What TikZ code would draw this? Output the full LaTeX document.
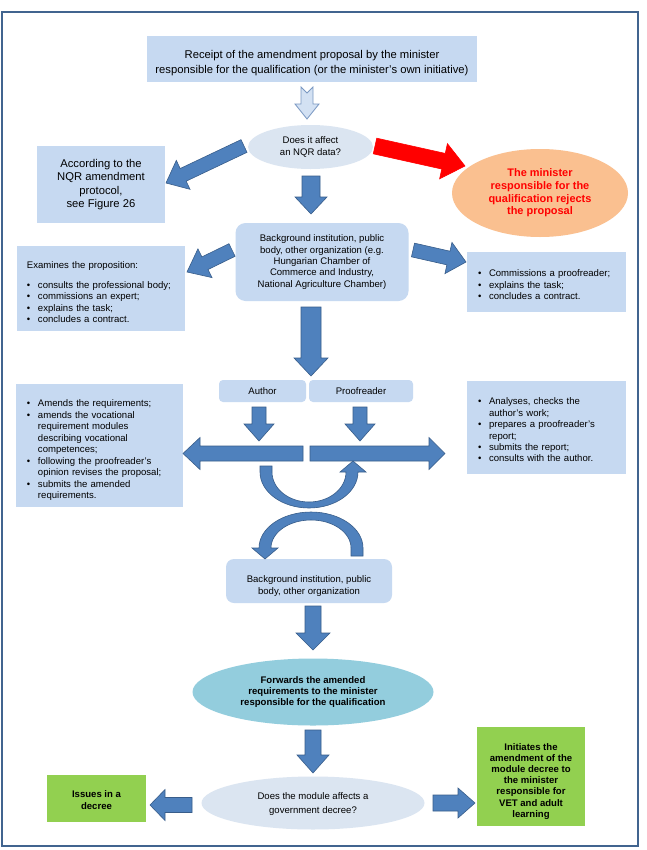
\documentclass[tikz,border=0pt]{standalone}
\usepackage{fontspec}
\setmainfont{Liberation Sans}
\usetikzlibrary{calc,shapes.geometric}
\definecolor{boxblue}{HTML}{C6D9F1}
\definecolor{ellblue}{HTML}{DBE5F1}
\definecolor{arrfill}{HTML}{4F81BD}
\definecolor{arrline}{HTML}{385D8A}
\definecolor{framec}{HTML}{41648F}
\definecolor{orangef}{HTML}{FAC090}
\definecolor{cyanf}{HTML}{93CDDD}
\definecolor{greenf}{HTML}{92D050}
\definecolor{hollowline}{HTML}{7A98C2}
\definecolor{hollowfill}{HTML}{D3E1F3}
\newcommand\fsmain{\fontsize{9.6}{11.5}\selectfont}
\newcommand\fsbig{\fontsize{11.3}{13.5}\selectfont}
\newcommand\bul{\makebox[11bp][l]{\textbullet}}
\newcommand\lowr[2]{\raisebox{-#1}[\height][\depth]{#2}}
\newcommand\blockarr[6][]{%
  \coordinate (ba-c) at ($(#3)!#6!(#2)$);
  \filldraw[blockarrow,#1] ($(#2)!#4!90:(#3)$) -- ($(ba-c)!#4!90:(#3)$) -- ($(ba-c)!#5!90:(#3)$) -- (#3) -- ($(ba-c)!#5!-90:(#3)$) -- ($(ba-c)!#4!-90:(#3)$) -- ($(#2)!#4!-90:(#3)$) -- cycle;}
\begin{document}
\begin{tikzpicture}[x=1bp,y=1bp,
  boxn/.style={fill=boxblue, inner sep=0pt, font=\fsmain, align=center},
  listbox/.style={fill=boxblue, inner ysep=0pt, font=\fsmain, align=left},
  ellq/.style={ellipse, fill=ellblue, inner sep=0pt, font=\fsmain, align=center},
  greenbox/.style={fill=greenf, inner sep=0pt, font={\fsmain\bfseries}, align=center},
  blockarrow/.style={fill=arrfill, draw=arrline, line width=0.6bp, line join=miter},
  redarrow/.style={fill=red, draw=red},
  hollowarrow/.style={fill=hollowfill, draw=hollowline, line width=0.8bp, line join=miter}]
\useasboundingbox (0,0) rectangle (647,-850);
\fill[white] (0,0) rectangle (647,-850);
\draw[framec, line width=2.2bp] (2,-12) rectangle (638,-846);

% nodes
\node[boxn, font={\fontsize{11.3}{15}\selectfont}, minimum width=330bp, minimum height=46bp] (top) at (312,-59)
  {\lowr{4bp}{\begin{tabular}{@{}c@{}}Receipt of the amendment proposal by the minister\\responsible for the qualification (or the minister’s own initiative)\end{tabular}}};
\node[ellq, minimum width=125bp, minimum height=44bp] (q1) at (310.5,-147) {Does it affect\\an NQR data?};
\node[boxn, font=\fsbig, minimum width=128bp, minimum height=77bp] (acc) at (101,-184.5)
  {According to the\\NQR amendment\\protocol,\\see Figure 26};
\node[ellipse, fill=orangef, inner sep=0pt, minimum width=176bp, minimum height=88bp,
  font={\fontsize{11}{12.7}\selectfont\bfseries}, text=red, align=center] (rej) at (540,-193)
  {The minister\\responsible for the\\qualification rejects\\the proposal};
\node[boxn, rounded corners=10bp, minimum width=173bp, minimum height=78bp] (bg1) at (322,-262)
  {Background institution, public\\body, other organization (e.g.\\Hungarian Chamber of\\Commerce and Industry,\\National Agriculture Chamber)};
\node[listbox, text width=148bp, inner xsep=10bp, minimum height=85bp] (lb2) at (101,-288.5)
  {\lowr{5bp}{\begin{tabular}{@{}l@{}l@{}}
   \multicolumn{2}{@{}l@{}}{Examines the proposition:}\\[8bp]
   \bul & consults the professional body;\\
   \bul & commissions an expert;\\
   \bul & explains the task;\\
   \bul & concludes a contract.
   \end{tabular}}};
\node[listbox, text width=137bp, inner xsep=11bp, minimum height=60bp] (rb1) at (546.5,-282)
  {\lowr{4bp}{\begin{tabular}{@{}l@{}l@{}}
   \bul & Commissions a proofreader;\\
   \bul & explains the task;\\
   \bul & concludes a contract.
   \end{tabular}}};
\node[boxn, rounded corners=4bp, minimum width=87bp, minimum height=22bp] (au) at (262.5,-391) {Author};
\node[boxn, rounded corners=4bp, minimum width=104bp, minimum height=22bp] (pr) at (361,-391) {Proofreader};
\node[listbox, text width=145bp, inner xsep=11bp, minimum height=123bp] (lb3) at (99.5,-445.5)
  {\lowr{5bp}{\begin{tabular}{@{}l@{}l@{}}
   \bul & Amends the requirements;\\
   \bul & amends the vocational\\
        & requirement modules\\
        & describing vocational\\
        & competences;\\
   \bul & following the proofreader’s\\
        & opinion revises the proposal;\\
   \bul & submits the amended\\
        & requirements.
   \end{tabular}}};
\node[listbox, text width=137bp, inner xsep=11bp, minimum height=93bp] (rb2) at (546.5,-427.5)
  {\lowr{3.5bp}{\begin{tabular}{@{}l@{}l@{}}
   \bul & Analyses, checks the\\
        & author’s work;\\
   \bul & prepares a proofreader’s\\
        & report;\\
   \bul & submits the report;\\
   \bul & consults with the author.
   \end{tabular}}};
\node[boxn, rounded corners=8bp, minimum width=166bp, minimum height=44bp] (bg2) at (309,-581)
  {\lowr{5bp}{\begin{tabular}{@{}c@{}}Background institution, public\\body, other organization\end{tabular}}};
\node[ellipse, fill=cyanf, inner sep=0pt, minimum width=241bp, minimum height=67bp,
  font={\fsmain\bfseries}, align=center] (fw) at (313,-692)
  {Forwards the amended\\requirements to the minister\\responsible for the qualification};
\node[ellq, minimum width=223bp, minimum height=53bp, font={\fontsize{9.6}{14}\selectfont}] (q2) at (313,-803)
  {\lowr{1bp}{\begin{tabular}{@{}c@{}}Does the module affects a\\government decree?\end{tabular}}};
\node[greenbox, minimum width=99bp, minimum height=47bp] (iss) at (96.5,-798.5)
  {\lowr{2.5bp}{\begin{tabular}{@{}c@{}}Issues in a\\decree\end{tabular}}};
\node[greenbox, minimum width=108bp, minimum height=99bp, font={\fontsize{9.6}{11.2}\selectfont\bfseries}] (ini) at (531,-776.5)
  {\lowr{5bp}{\begin{tabular}{@{}c@{}}Initiates the\\amendment of the\\module decree to\\the minister\\responsible for\\VET and adult\\learning\end{tabular}}};

% hollow arrow top -> q1
\filldraw[hollowarrow] (301,-87) -- (307,-93) -- (313,-87) -- (313,-104) -- (319,-104) -- (307,-119) -- (295,-104) -- (301,-104) -- cycle;

% block arrows
\coordinate (a1s) at (244,-146);  \coordinate (a1e) at (166,-183);
\coordinate (a2s) at (375,-146);  \coordinate (a2e) at (465,-166);
\coordinate (a3s) at (311,-176);  \coordinate (a3e) at (311,-214);
\coordinate (a4s) at (232,-250);  \coordinate (a4e) at (187,-272);
\coordinate (a5s) at (413,-250);  \coordinate (a5e) at (466,-262);
\coordinate (a6s) at (311,-307);  \coordinate (a6e) at (311,-376);
\coordinate (a7s) at (259,-407);  \coordinate (a7e) at (259,-441);
\coordinate (a8s) at (360,-407);  \coordinate (a8e) at (360,-441);
\coordinate (a9s) at (303,-453.5); \coordinate (a9e) at (183,-453.5);
\coordinate (a10s) at (310,-453.5); \coordinate (a10e) at (445,-453.5);
\coordinate (a11s) at (313,-606); \coordinate (a11e) at (313,-650);
\coordinate (a12s) at (313,-730); \coordinate (a12e) at (313,-773);
\coordinate (a13s) at (192,-805); \coordinate (a13e) at (150,-805);
\coordinate (a14s) at (433,-803); \coordinate (a14e) at (475,-803);

\blockarr{a1s}{a1e}{7bp}{16bp}{19bp}
\blockarr[redarrow]{a2s}{a2e}{8bp}{18bp}{22bp}
\blockarr{a3s}{a3e}{9bp}{16bp}{17bp}
\blockarr{a4s}{a4e}{7bp}{16bp}{20bp}
\blockarr{a5s}{a5e}{7bp}{16bp}{18bp}
\blockarr{a6s}{a6e}{10bp}{17bp}{18bp}
\blockarr{a7s}{a7e}{7bp}{15bp}{17bp}
\blockarr{a8s}{a8e}{7bp}{15bp}{17bp}
\blockarr{a9s}{a9e}{7.5bp}{16bp}{17bp}
\blockarr{a10s}{a10e}{7.5bp}{16bp}{16bp}
\blockarr{a11s}{a11e}{8bp}{17bp}{17bp}
\blockarr{a12s}{a12e}{8bp}{16bp}{18bp}
\blockarr{a13s}{a13e}{7.5bp}{15.5bp}{15bp}
\blockarr{a14s}{a14e}{8bp}{15bp}{17bp}

% curved arrows
\filldraw[blockarrow] (260,-466) -- (260,-472) arc[start angle=180,end angle=360,x radius=49,y radius=36]
  -- (366,-472) -- (353,-461) -- (340,-472) -- (346,-472)
  arc[start angle=0,end angle=-180,x radius=37,y radius=30] -- (272,-466) -- cycle;
\filldraw[blockarrow] (363,-556) -- (363,-548) arc[start angle=0,end angle=180,x radius=52,y radius=36]
  -- (252,-548) -- (265,-559) -- (278,-548) -- (271,-548)
  arc[start angle=180,end angle=0,x radius=40,y radius=28] -- (351,-556) -- cycle;
\end{tikzpicture}
\end{document}
